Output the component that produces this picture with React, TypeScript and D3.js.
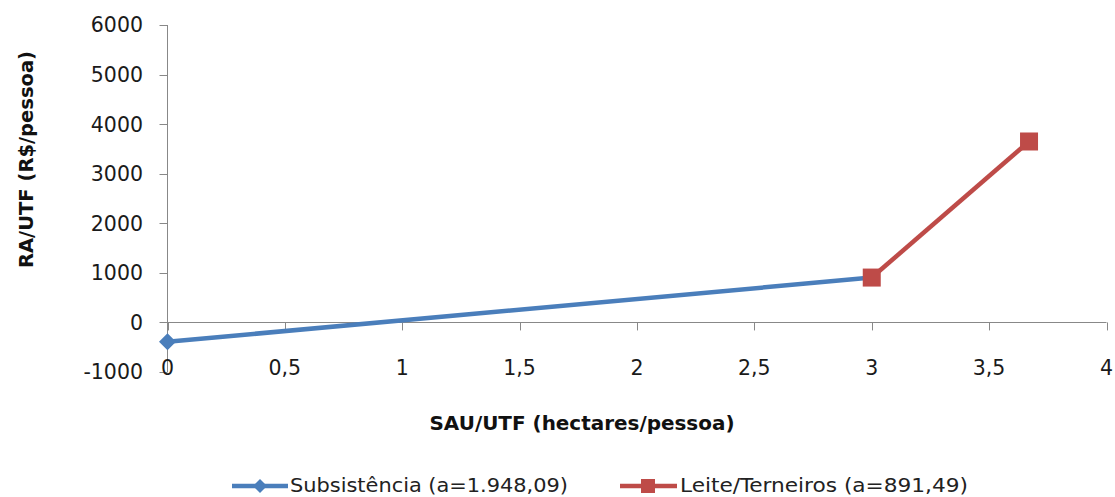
import React from "react";
import * as d3 from "d3";

const xTicks = [0, 0.5, 1, 1.5, 2, 2.5, 3, 3.5, 4];
const xTickLabels = ["0", "0,5", "1", "1,5", "2", "2,5", "3", "3,5", "4"];
const yTicks = [-1000, 0, 1000, 2000, 3000, 4000, 5000, 6000];

const subX = [0, 3];
const subY = [-390, 905];
const leiteX = [3, 3.67];
const leiteY = [905, 3650];

const seriesNames = ["Subsistência (a=1.948,09)", "Leite/Terneiros (a=891,49)"];
const xTitle = "SAU/UTF (hectares/pessoa)";
const yTitle = "RA/UTF (R$/pessoa)";

const BLUE = "#4A7EBB";
const RED = "#BE4B48";
const AXIS = "#888888";

export default function App() {
  const x = d3.scaleLinear().domain([0, 4]).range([167.5, 1106.5]);
  const y = d3.scaleLinear().domain([-1000, 6000]).range([372, 25]);
  const line = d3
    .line<[number, number]>()
    .x((d) => x(d[0]))
    .y((d) => y(d[1]));
  const subPts: [number, number][] = subX.map((v, i) => [v, subY[i]]);
  const leitePts: [number, number][] = leiteX.map((v, i) => [v, leiteY[i]]);
  const tickFont = "DejaVu Sans, sans-serif";
  const diamond = (cx: number, cy: number, r: number) =>
    `M${cx},${cy - r}L${cx + r},${cy}L${cx},${cy + r}L${cx - r},${cy}Z`;

  return (
    <svg
      width={1115}
      height={497}
      style={{ position: "absolute", left: 0, top: 0, background: "#fff" }}
    >
      {/* y axis */}
      <line x1={x(0)} x2={x(0)} y1={y(-1000)} y2={y(6000)} stroke={AXIS} strokeWidth={1} />
      {yTicks.map((t) => (
        <g key={t}>
          <line x1={x(0) - 8} x2={x(0)} y1={Math.round(y(t)) + 0.5} y2={Math.round(y(t)) + 0.5} stroke={AXIS} />
          <text
            x={143}
            y={y(t)}
            dy="0.36em"
            textAnchor="end"
            fontFamily={tickFont}
            fontSize={20.5}
            fill="#1a1a1a"
          >
            {t}
          </text>
        </g>
      ))}
      {/* x axis at 0 */}
      <line x1={x(0)} x2={x(4)} y1={Math.round(y(0)) + 0.5} y2={Math.round(y(0)) + 0.5} stroke={AXIS} />
      {xTicks.map((t, i) => (
        <g key={t}>
          <line x1={Math.round(x(t)) + 0.5} x2={Math.round(x(t)) + 0.5} y1={y(0)} y2={y(0) + 8} stroke={AXIS} />
          <text
            x={x(t)}
            y={375}
            textAnchor="middle"
            fontFamily={tickFont}
            fontSize={20.5}
            fill="#1a1a1a"
          >
            {xTickLabels[i]}
          </text>
        </g>
      ))}
      {/* titles */}
      <text
        x={582}
        y={430}
        textAnchor="middle"
        fontFamily="DejaVu Sans, sans-serif"
        fontWeight="bold"
        fontSize={19}
        textLength={305}
        lengthAdjust="spacingAndGlyphs"
        fill="#111"
      >
        {xTitle}
      </text>
      <text
        transform={`translate(33,159.5) rotate(-90)`}
        textAnchor="middle"
        fontFamily="DejaVu Sans, sans-serif"
        fontWeight="bold"
        fontSize={19}
        textLength={217}
        lengthAdjust="spacingAndGlyphs"
        fill="#111"
      >
        {yTitle}
      </text>
      {/* series */}
      <path d={line(subPts) || ""} fill="none" stroke={BLUE} strokeWidth={4.5} strokeLinejoin="round" />
      <path d={line(leitePts) || ""} fill="none" stroke={RED} strokeWidth={4.5} strokeLinejoin="round" />
      {subPts.map((p, i) => (
        <path key={"d" + i} d={diamond(x(p[0]), y(p[1]), 8.5)} fill={BLUE} />
      ))}
      {leitePts.map((p, i) => (
        <rect key={"s" + i} x={x(p[0]) - 9} y={y(p[1]) - 9} width={18} height={18} fill={RED} />
      ))}
      {/* legend */}
      <line x1={232} x2={288} y1={486} y2={486} stroke={BLUE} strokeWidth={4.5} />
      <path d={diamond(260, 486, 7)} fill={BLUE} />
      <text
        x={290}
        y={492}
        fontFamily="Liberation Sans Narrow, DejaVu Sans Condensed, DejaVu Sans, sans-serif"
        fontSize={19}
        textLength={278}
        lengthAdjust="spacingAndGlyphs"
        fill="#222"
      >
        {seriesNames[0]}
      </text>
      <line x1={620} x2={677} y1={486} y2={486} stroke={RED} strokeWidth={4.5} />
      <rect x={641} y={479} width={14} height={14} fill={RED} />
      <text
        x={680}
        y={492}
        fontFamily="Liberation Sans Narrow, DejaVu Sans Condensed, DejaVu Sans, sans-serif"
        fontSize={19}
        textLength={288}
        lengthAdjust="spacingAndGlyphs"
        fill="#222"
      >
        {seriesNames[1]}
      </text>
    </svg>
  );
}
